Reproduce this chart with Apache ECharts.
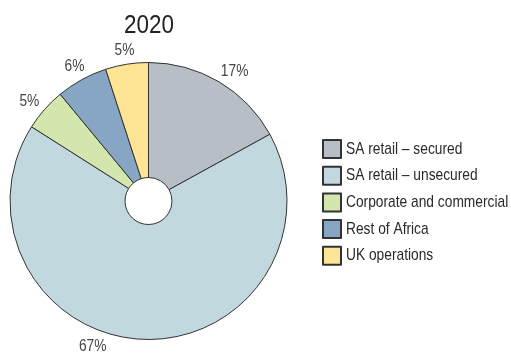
<!DOCTYPE html>
<html>
<head>
<meta charset="utf-8">
<script src="https://cdn.jsdelivr.net/npm/echarts@6/dist/echarts.min.js"></script>
<style>
  html, body { margin: 0; padding: 0; background: #fff; }
  #chart { width: 511px; height: 354px; }
</style>
</head>
<body>
<div id="chart"></div>
<script>
// Loan book split by segment, 2020 (percent of total)
const chartTitle = '2020';
const segments = [
  'SA retail – secured',
  'SA retail – unsecured',
  'Corporate and commercial',
  'Rest of Africa',
  'UK operations'
];
const shares = [17, 67, 5, 6, 5];
const segmentColors = ['#b7bec6', '#c1d8de', '#d3e6ae', '#87a6c4', '#fee595'];

// small per-label nudges (px) applied after radial placement
const labelNudge = [[8, 2], [-51, -8], [-4, 2], [0, 0], [0, 1]];

const FONT = '"Liberation Sans", Arial, sans-serif';
// horizontal squeeze giving the sans face a condensed look
const TEXT_SQUEEZE = 0.81;
const TITLE_SQUEEZE = 0.88;

const chart = echarts.init(document.getElementById('chart'), null, { renderer: 'canvas' });

chart.setOption({
  backgroundColor: '#ffffff',
  animation: false,
  title: {
    text: chartTitle,
    left: 144,
    top: 8,
    textAlign: 'center',
    textStyle: { fontFamily: FONT, fontSize: 25.5, fontWeight: 'normal', color: '#222222' }
  },
  legend: {
    orient: 'vertical',
    left: 322,
    top: 139,
    padding: 0,
    itemWidth: 18,
    itemHeight: 18,
    itemGap: 6.7,
    icon: 'rect',
    selectedMode: false,
    textStyle: { fontFamily: FONT, fontSize: 17, color: '#2a2a2a' },
    data: segments
  },
  series: [{
    type: 'pie',
    center: [148.5, 201],
    radius: [23.5, 138.5],
    startAngle: 90,
    clockwise: true,
    avoidLabelOverlap: false,
    itemStyle: { borderColor: '#333333', borderWidth: 1 },
    label: {
      show: true,
      position: 'outside',
      formatter: '{c}%',
      fontFamily: FONT,
      fontSize: 17,
      color: '#444444'
    },
    labelLine: { show: true, length: 8, length2: 0, lineStyle: { opacity: 0 } },
    labelLayout: function (p) {
      const pts = p.labelLinePoints;
      if (!pts) return {};
      const dx = pts[1][0] - pts[0][0];
      const dy = pts[1][1] - pts[0][1];
      const len = Math.sqrt(dx * dx + dy * dy) || 1;
      const dist = 15;
      const n = labelNudge[p.dataIndex];
      return {
        x: pts[0][0] + dx / len * dist + n[0],
        y: pts[0][1] + dy / len * dist + n[1],
        align: 'center',
        verticalAlign: 'middle'
      };
    },
    emphasis: { disabled: true },
    data: segments.map((name, i) => ({
      name: name,
      value: shares[i],
      itemStyle: { color: segmentColors[i] }
    }))
  }]
});

// Narrow every text element around its own anchor (left edge or centre)
function squeeze(el) {
  if (el.type === 'text') {
    const r = el.getBoundingRect();
    const align = el.style.align || 'left';
    el.originX = align === 'center' ? r.x + r.width / 2
      : align === 'right' ? r.x + r.width : r.x;
    el.originY = 0;
    el.scaleX = el.style.text === chartTitle ? TITLE_SQUEEZE : TEXT_SQUEEZE;
    el.markRedraw();
  }
  const tc = el.getTextContent && el.getTextContent();
  if (tc) squeeze(tc);
  if (el.isGroup) el.eachChild(squeeze);
}
const zr = chart.getZr();
zr.storage.getRoots().forEach(squeeze);
zr.refreshImmediately();
</script>
</body>
</html>
